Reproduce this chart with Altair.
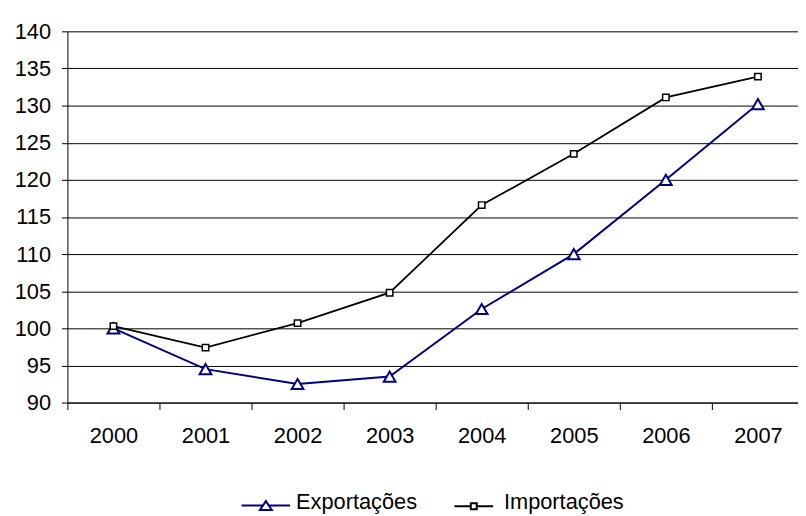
import altair as alt
import pandas as pd

anos = ["2000", "2001", "2002", "2003", "2004", "2005", "2006", "2007"]
exportacoes = [100.0, 94.5, 92.5, 93.5, 102.6, 110.0, 120.0, 130.2]
importacoes = [100.3, 97.4, 100.7, 104.8, 116.6, 123.5, 131.1, 133.9]
series = ["Exportações", "Importações"]
cores = ["#000080", "#000000"]
larguras = [2, 1.75]
y_ticks = [90, 95, 100, 105, 110, 115, 120, 125, 130, 135, 140]

df = pd.DataFrame({
    "ano": anos * 2,
    "valor": exportacoes + importacoes,
    "serie": [series[0]] * len(anos) + [series[1]] * len(anos),
})

FONT = "Liberation Sans"
FS = 22

x = alt.X(
    "ano:O",
    scale=alt.Scale(type="band", domain=anos, range=[0, 744], paddingInner=0, paddingOuter=0),
    axis=alt.Axis(
        title=None, labelAngle=0, tickBand="extent", tickSize=7, labelPadding=16,
        domainColor="black", tickColor="black", labelFontSize=FS, labelColor="black",
        labelFont=FONT, grid=False,
    ),
)
y = alt.Y(
    "valor:Q",
    scale=alt.Scale(domain=[90, 140], nice=False, zero=False),
    axis=alt.Axis(
        title=None, values=y_ticks, tickSize=6, labelPadding=11, grid=True,
        gridColor="black", gridOpacity=1, domainColor="black", tickColor="black",
        labelFontSize=FS, labelColor="black", labelFont=FONT,
    ),
)

camadas = []
for s, c, w in zip(series, cores, larguras):
    camadas.append(
        alt.Chart(df).transform_filter(alt.datum.serie == s)
        .mark_line(color=c, strokeWidth=w).encode(x=x, y=y)
    )

camadas.append(
    alt.Chart(df).transform_filter(alt.datum.serie == series[0]).mark_point(
        shape="triangle-up", size=140, filled=True, fill="white", stroke=cores[0],
        strokeWidth=2, opacity=1,
    ).encode(x=x, y=y)
)
camadas.append(
    alt.Chart(df).transform_filter(alt.datum.serie == series[1]).mark_point(
        shape="square", size=42, filled=True, fill="white", stroke=cores[1],
        strokeWidth=1.5, opacity=1,
    ).encode(x=x, y=y)
)

# legend symbols: a line with the series marker in its middle
path_tri = "M-1,0.163H-0.122M0.122,0.163H1M-0.245,0.347L0,-0.02L0.245,0.347Z"
path_sq = "M-0.8,0.163H-0.122M0.122,0.163H0.8M-0.122,0.041H0.122V0.285H-0.122Z"

leg = dict(
    orient="none", legendX=175, legendY=449, direction="horizontal", title=None,
    symbolSize=2401, symbolStrokeWidth=2, symbolOpacity=1, labelFontSize=FS,
    labelFont=FONT, labelColor="black", columnPadding=31, labelOffset=5, padding=0,
)

camadas.append(
    alt.Chart(df).mark_point(filled=False, size=2401, opacity=0).encode(
        x=x, y=y,
        shape=alt.Shape("serie:N", scale=alt.Scale(domain=series, range=[path_tri, path_sq]),
                        legend=alt.Legend(**leg)),
        stroke=alt.Stroke("serie:N", scale=alt.Scale(domain=series, range=cores),
                          legend=alt.Legend(**leg)),
    )
)

chart = alt.layer(*camadas).properties(
    width=738, height=375, autosize="none",
    padding={"left": 60, "top": 21, "right": 0, "bottom": 112},
    background="white",
).configure_view(stroke=None)

chart.save("out.html", embed_options={"renderer": "svg", "actions": False})
